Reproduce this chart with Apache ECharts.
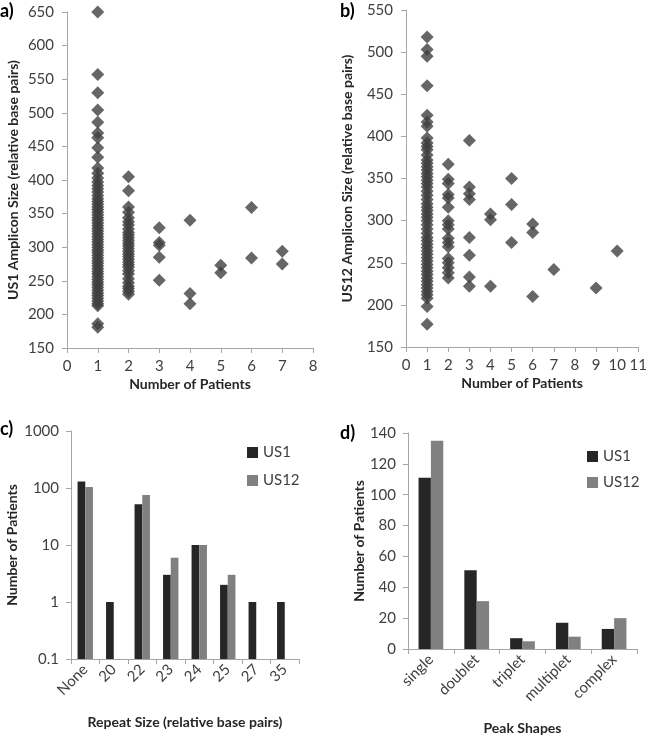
<!DOCTYPE html>
<html>
<head>
<meta charset="utf-8">
<script src="https://cdn.jsdelivr.net/npm/echarts@6/dist/echarts.min.js"></script>
<style>
html,body{margin:0;padding:0;background:#fff;}
#c{width:650px;height:736px;}
</style>
</head>
<body>
<div id="c"></div>
<script>
// ---------- Panel a: US1 amplicon size vs number of patients ----------
const aSizesAt1 = [650, 557, 530, 504, 486, 470, 463, 448, 434, 418, 410, 403, 397, 392, 387, 382, 377, 372, 368, 364, 360, 356, 352, 348, 344, 340, 336, 332, 328, 324, 320, 316, 312, 308, 304, 300, 296, 292, 288, 284, 280, 276, 272, 268, 264, 260, 256, 252, 248, 244, 240, 236, 232, 228, 224, 220, 216, 213, 186, 181];
const aSizesAt2 = [405, 384, 360, 352, 344, 338, 333, 327, 322, 318, 314, 310, 306, 302, 298, 294, 290, 286, 282, 278, 274, 270, 265, 260, 253, 247, 242, 238, 234, 230];
const aSizesAt3 = [329, 307, 303, 285, 251];
const aSizesAt4 = [340, 231, 216];
const aSizesAt5 = [273, 262];
const aSizesAt6 = [359, 284];
const aSizesAt7 = [294, 275];

// ---------- Panel b: US12 amplicon size vs number of patients ----------
const bSizesAt1 = [518, 503, 495, 460, 425, 417, 412, 398, 392, 388, 384, 378, 372, 368, 364, 360, 356, 352, 348, 344, 340, 335, 330, 325, 320, 316, 312, 308, 304, 300, 295, 290, 285, 280, 276, 272, 268, 264, 260, 256, 252, 248, 244, 240, 236, 232, 228, 224, 220, 216, 212, 208, 198, 177];
const bSizesAt2 = [367, 349, 344, 331, 327, 316, 300, 295, 290, 279, 274, 269, 255, 250, 244, 238, 232];
const bSizesAt3 = [395, 340, 332, 325, 280, 259, 233, 222];
const bSizesAt4 = [308, 301, 222];
const bSizesAt5 = [350, 319, 274];
const bSizesAt6 = [296, 286, 210];
const bSizesAt7 = [242];
const bSizesAt9 = [220];
const bSizesAt10 = [264];

// ---------- Panel c: repeat size ----------
const repeatSizes = ['None', '20', '22', '23', '24', '25', '27', '35'];
const repeatUS1 = [130, 1, 52, 3, 10, 2, 1, 1];
const repeatUS12 = [104, null, 75, 6, 10, 3, null, null];

// ---------- Panel d: peak shapes ----------
const peakShapes = ['single', 'doublet', 'triplet', 'multiplet', 'complex'];
const peakUS1 = [111, 51, 7, 17, 13];
const peakUS12 = [135, 31, 5, 8, 20];

const FONT = 'Lato, "Open Sans", sans-serif';
const LABEL = '#404040';
const AXIS = '#a6a6a6';
const DIAMOND = '#404040';

function pairs(x, arr) { return arr.map(v => [x, v]); }

const aData = [].concat(
  pairs(1, aSizesAt1), pairs(2, aSizesAt2), pairs(3, aSizesAt3),
  pairs(4, aSizesAt4), pairs(5, aSizesAt5), pairs(6, aSizesAt6), pairs(7, aSizesAt7));
const bData = [].concat(
  pairs(1, bSizesAt1), pairs(2, bSizesAt2), pairs(3, bSizesAt3),
  pairs(4, bSizesAt4), pairs(5, bSizesAt5), pairs(6, bSizesAt6),
  pairs(7, bSizesAt7), pairs(9, bSizesAt9), pairs(10, bSizesAt10));

const axisLine = { show: true, lineStyle: { color: AXIS, width: 1 } };
const axisTick = { show: true, length: 5, lineStyle: { color: AXIS } };
const axisLabel = { color: LABEL, fontSize: 15, fontFamily: FONT };
const nameStyle = { color: '#262626', fontSize: 14, fontWeight: 'bold', fontFamily: FONT };

const chart = echarts.init(document.getElementById('c'), null, { renderer: 'canvas' });
chart.setOption({
  animation: false,
  backgroundColor: '#ffffff',
  textStyle: { fontFamily: FONT },
  graphic: [
    { type: 'text', left: 0, top: 2, style: { text: 'a)', font: 'bold 18px ' + FONT, fill: '#000' } },
    { type: 'text', left: 340, top: 2, style: { text: 'b)', font: 'bold 18px ' + FONT, fill: '#000' } },
    { type: 'text', left: 0, top: 420, style: { text: 'c)', font: 'bold 18px ' + FONT, fill: '#000' } },
    { type: 'text', left: 340, top: 424, style: { text: 'd)', font: 'bold 18px ' + FONT, fill: '#000' } }
  ],
  legend: [
    {
      left: 242, top: 440, orient: 'vertical', itemGap: 13,
      itemWidth: 11, itemHeight: 11, icon: 'rect',
      textStyle: { color: LABEL, fontSize: 15, fontFamily: FONT },
      data: [{ name: 'US1' }, { name: 'US12' }]
    },
    {
      left: 582, top: 444, orient: 'vertical', itemGap: 11,
      itemWidth: 11, itemHeight: 11, icon: 'rect',
      textStyle: { color: LABEL, fontSize: 15, fontFamily: FONT },
      data: [{ name: 'US1 ' }, { name: 'US12 ' }]
    }
  ],
  grid: [
    { left: 67, top: 12, width: 246, height: 336 },
    { left: 406, top: 10, width: 234, height: 337 },
    { left: 71, top: 431, width: 228, height: 228 },
    { left: 408, top: 433, width: 229, height: 216 }
  ],
  xAxis: [
    { gridIndex: 0, type: 'value', min: 0, max: 8, interval: 1, splitLine: { show: false },
      axisLine, axisTick, axisLabel: { ...axisLabel, margin: 11 },
      name: 'Number of Patients', nameLocation: 'middle', nameGap: 29, nameTextStyle: nameStyle },
    { gridIndex: 1, type: 'value', min: 0, max: 11, interval: 1, splitLine: { show: false },
      axisLine, axisTick, axisLabel: { ...axisLabel, margin: 11 },
      name: 'Number of Patients', nameLocation: 'middle', nameGap: 29, nameTextStyle: nameStyle },
    { gridIndex: 2, type: 'category', data: repeatSizes, boundaryGap: true,
      axisLine, axisTick: { ...axisTick, alignWithLabel: false }, splitLine: { show: false },
      axisLabel: { ...axisLabel, rotate: 45, margin: 8, interval: 0 },
      name: 'Repeat Size (relative base pairs)', nameLocation: 'middle', nameGap: 56, nameTextStyle: nameStyle },
    { gridIndex: 3, type: 'category', data: peakShapes, boundaryGap: true,
      axisLine, axisTick: { ...axisTick, alignWithLabel: false }, splitLine: { show: false },
      axisLabel: { ...axisLabel, rotate: 45, margin: 8, interval: 0 },
      name: 'Peak Shapes', nameLocation: 'middle', nameGap: 72, nameTextStyle: nameStyle }
  ],
  yAxis: [
    { gridIndex: 0, type: 'value', min: 150, max: 650, interval: 50, splitLine: { show: false },
      axisLine, axisTick, axisLabel: { ...axisLabel, margin: 13 },
      name: 'US1 Amplicon Size (relative base pairs)', nameLocation: 'middle', nameGap: 47, nameTextStyle: nameStyle },
    { gridIndex: 1, type: 'value', min: 150, max: 550, interval: 50, splitLine: { show: false },
      axisLine, axisTick, axisLabel: { ...axisLabel, margin: 13 },
      name: 'US12 Amplicon Size (relative base pairs)', nameLocation: 'middle', nameGap: 52, nameTextStyle: nameStyle },
    { gridIndex: 2, type: 'log', logBase: 10, min: 0.1, max: 1000, startValue: 0.1, splitLine: { show: false },
      axisLine, axisTick, axisLabel: { ...axisLabel, margin: 12, formatter: v => String(+v.toPrecision(3)) },
      name: 'Number of Patients', nameLocation: 'middle', nameGap: 52, nameTextStyle: nameStyle },
    { gridIndex: 3, type: 'value', min: 0, max: 140, interval: 20, splitLine: { show: false },
      axisLine, axisTick, axisLabel: { ...axisLabel, margin: 12 },
      name: 'Number of Patients', nameLocation: 'middle', nameGap: 40, nameTextStyle: nameStyle }
  ],
  series: [
    { type: 'scatter', xAxisIndex: 0, yAxisIndex: 0, data: aData, symbol: 'diamond', symbolSize: 13,
      itemStyle: { color: DIAMOND } },
    { type: 'scatter', xAxisIndex: 1, yAxisIndex: 1, data: bData, symbol: 'diamond', symbolSize: 13,
      itemStyle: { color: DIAMOND } },
    { name: 'US1', type: 'bar', xAxisIndex: 2, yAxisIndex: 2, data: repeatUS1, barGap: '0%', barCategoryGap: '46%',
      itemStyle: { color: '#262626' } },
    { name: 'US12', type: 'bar', xAxisIndex: 2, yAxisIndex: 2, data: repeatUS12, barGap: '0%', barCategoryGap: '46%',
      itemStyle: { color: '#808080' } },
    { name: 'US1 ', type: 'bar', xAxisIndex: 3, yAxisIndex: 3, data: peakUS1, barGap: '0%', barCategoryGap: '46%',
      itemStyle: { color: '#262626' } },
    { name: 'US12 ', type: 'bar', xAxisIndex: 3, yAxisIndex: 3, data: peakUS12, barGap: '0%', barCategoryGap: '46%',
      itemStyle: { color: '#808080' } }
  ]
});
</script>
</body>
</html>
